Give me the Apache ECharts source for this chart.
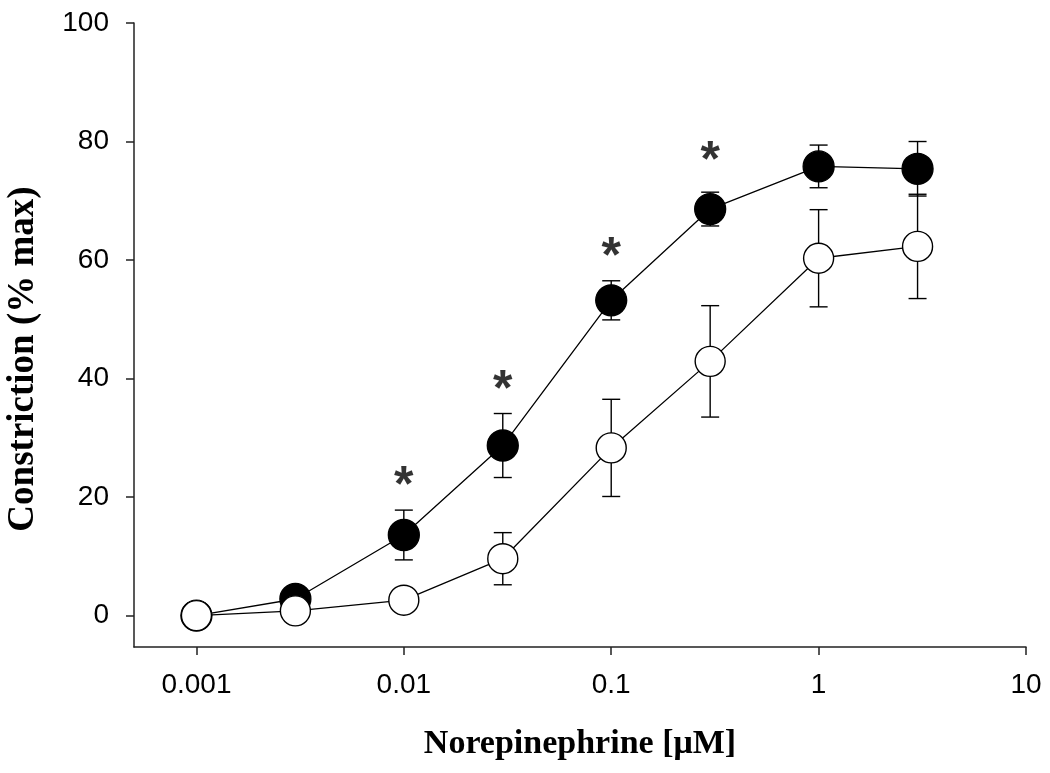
<!DOCTYPE html>
<html>
<head>
<meta charset="utf-8">
<script src="https://cdn.jsdelivr.net/npm/echarts@6/dist/echarts.min.js"></script>
<style>html,body{margin:0;padding:0;background:#fff}#c{width:1050px;height:773px}</style>
</head>
<body>
<div id="c"></div>
<script>
// Data
const concentrations = [0.001, 0.003, 0.01, 0.03, 0.1, 0.3, 1, 3];
const filledMean = [0, 2.8, 13.6, 28.7, 53.2, 68.6, 75.8, 75.4];
const filledSE = [null, null, 4.2, 5.4, 3.3, 2.85, 3.6, 4.6];
const openMean = [0, 0.8, 2.6, 9.6, 28.3, 42.9, 60.3, 62.3];
const openSE = [null, null, null, 4.4, 8.2, 9.4, 8.2, 8.8];
const starX = [0.01, 0.03, 0.1, 0.3];
const starY = [23.2, 39.4, 61.8, 78.1];
const xTicks = [0.001, 0.01, 0.1, 1, 10];
const yTicks = [0, 20, 40, 60, 80, 100];

function errData(mean, se) {
  const out = [];
  concentrations.forEach((x, i) => {
    if (se[i] != null) out.push([x, mean[i] - se[i], mean[i] + se[i]]);
  });
  return out;
}
const errAll = errData(filledMean, filledSE).concat(errData(openMean, openSE));

const chart = echarts.init(document.getElementById('c'), null, {renderer: 'canvas'});
const axisColor = '#222';
chart.setOption({
  animation: false,
  backgroundColor: '#fff',
  grid: {left: 134, right: 24, top: 23, bottom: 126, containLabel: false, outerBoundsMode: 'none'},
  xAxis: {
    type: 'log', logBase: 10, min: 0.0005, max: 10,
    name: 'Norepinephrine [\u03BCM]', nameLocation: 'middle', nameGap: 80,
    nameTextStyle: {fontFamily: 'Liberation Serif', fontWeight: 'bold', fontSize: 34, color: '#000'},
    axisLine: {show: true, onZero: false, lineStyle: {color: axisColor, width: 1.5}},
    axisTick: {show: true, length: 8, inside: false, customValues: xTicks, lineStyle: {color: axisColor, width: 1.5}},
    axisLabel: {show: true, customValues: xTicks, margin: 24, fontFamily: 'Liberation Sans', fontSize: 28, color: '#000',
      formatter: v => String(+v.toPrecision(6))},
    splitLine: {show: false}, minorTick: {show: false}
  },
  yAxis: {
    type: 'value', min: -5.3, max: 100,
    name: 'Constriction (% max)', nameLocation: 'middle', nameGap: 92,
    nameTextStyle: {fontFamily: 'Liberation Serif', fontWeight: 'bold', fontSize: 37, color: '#000', padding: [0, 48, 0, 0]},
    axisLine: {show: true, onZero: false, lineStyle: {color: axisColor, width: 1.5}},
    axisTick: {show: true, length: 8, inside: false, customValues: yTicks, lineStyle: {color: axisColor, width: 1.5}},
    axisLabel: {show: true, customValues: yTicks, margin: 25, fontFamily: 'Liberation Sans', fontSize: 28, color: '#000'},
    splitLine: {show: false}
  },
  series: [
    {
      type: 'custom', z: 1, data: errAll, clip: false,
      renderItem: function (params, api) {
        const x = api.value(0);
        const lo = api.coord([x, api.value(1)]);
        const hi = api.coord([x, api.value(2)]);
        const w = 9;
        const style = {stroke: '#000', lineWidth: 1.4};
        return {type: 'group', children: [
          {type: 'line', shape: {x1: lo[0], y1: lo[1], x2: hi[0], y2: hi[1]}, style},
          {type: 'line', shape: {x1: lo[0] - w, y1: lo[1], x2: lo[0] + w, y2: lo[1]}, style},
          {type: 'line', shape: {x1: hi[0] - w, y1: hi[1], x2: hi[0] + w, y2: hi[1]}, style}
        ]};
      }
    },
    {
      type: 'line', z: 2, name: 'filled',
      data: concentrations.map((x, i) => [x, filledMean[i]]),
      symbol: 'circle', symbolSize: 31,
      lineStyle: {color: '#000', width: 1.3},
      itemStyle: {color: '#000', borderColor: '#000', borderWidth: 1.3}
    },
    {
      type: 'line', z: 3, name: 'open',
      data: concentrations.map((x, i) => [x, openMean[i]]),
      symbol: 'circle', symbolSize: 30,
      lineStyle: {color: '#000', width: 1.3},
      itemStyle: {color: '#fff', borderColor: '#000', borderWidth: 1.4}
    },
    {
      type: 'scatter', z: 4, symbolSize: 1, itemStyle: {color: 'rgba(0,0,0,0)'},
      data: starX.map((x, i) => [x, starY[i]]),
      label: {show: true, position: 'inside', formatter: '*', fontFamily: 'Liberation Sans', fontWeight: 'bold',
        fontSize: 50, color: '#000', textBorderWidth: 0, offset: [0, 9]}
    }
  ]
});
</script>
</body>
</html>
